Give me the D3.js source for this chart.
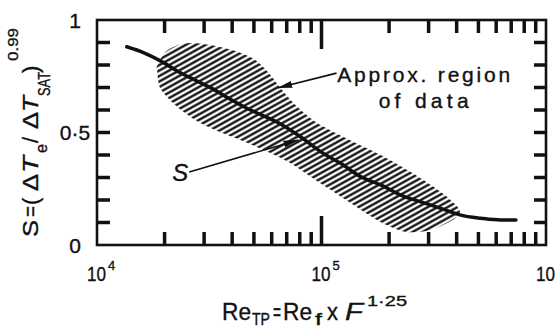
<!DOCTYPE html>
<html>
<head>
<meta charset="utf-8">
<script src="https://cdn.jsdelivr.net/npm/d3@7"></script>
<style>
    body { margin: 0; background: #fff; }
    svg { display: block; font-family: "Liberation Sans", Arial, sans-serif; }
    text { fill: #111; stroke: #111; stroke-width: 0.35px; }
</style>
</head>
<body>
<svg id="chart" width="557" height="329"></svg>
<script>
// S curve (Re_TP, S)
const curveRe = [13570, 16380, 19450, 23070, 27380, 32510, 38580, 45800, 54500, 65600, 80600,
    99000, 121600, 149300, 183400, 225300, 276700, 339900, 417400, 512700, 629000, 734500];
const curveS = [0.881, 0.852, 0.815, 0.770, 0.733, 0.696, 0.652, 0.611, 0.576, 0.538, 0.481,
    0.415, 0.363, 0.304, 0.267, 0.222, 0.192, 0.163, 0.133, 0.119, 0.111, 0.111];

// approx. region of data: upper edge left->right, lower edge right->left
const regionUpperRe = [18530, 20120, 22990, 26020, 31960, 41310, 50750, 59200, 65610, 76560,
    94000, 127900, 183400, 249700, 339900, 396500, 413200];
const regionUpperS = [0.796, 0.858, 0.889, 0.898, 0.889, 0.862, 0.822, 0.756, 0.698, 0.622,
    0.547, 0.476, 0.400, 0.324, 0.236, 0.178, 0.147];
const regionLowerRe = [384500, 306700, 237100, 183400, 134700, 94000, 72700, 59200, 45790,
    33640, 27380, 22300, 19110, 18530];
const regionLowerS = [0.111, 0.067, 0.058, 0.102, 0.187, 0.289, 0.364, 0.409, 0.458,
    0.511, 0.556, 0.622, 0.698, 0.778];

// ticks
const xMinorTicks = [2e4, 3e4, 4e4, 5e4, 6e4, 7e4, 8e4, 9e4, 2e5, 3e5, 4e5, 5e5, 6e5, 7e5, 8e5, 9e5];
const xMajorTicks = [1e5];
const xLabelValues = [1e4, 1e5, 1e6];
const xLabelExps = ["4", "5", "6"];
const yTicks = [0.1, 0.2, 0.3, 0.4, 0.5, 0.6, 0.7, 0.8, 0.9];
const yLabelValues = [0, 0.5, 1];
const yLabelTexts = ["0", "0·5", "1"];

// annotation anchors, in data units
const approxArrow = {from: [116700, 0.764], to: [63600, 0.698]};
const sArrow = {from: [25750, 0.324], to: [78950, 0.467]};

const svg = d3.select("#chart");
const margin = {top: 20, right: 11, bottom: 84, left: 97};
const width = 557 - margin.left - margin.right;
const height = 329 - margin.top - margin.bottom;
const g = svg.append("g").attr("transform", `translate(${margin.left},${margin.top})`);

const x = d3.scaleLog().domain([1e4, 1e6]).range([0, width]);
const y = d3.scaleLinear().domain([0, 1]).range([height, 0]);

// frame
g.append("rect")
    .attr("width", width).attr("height", height)
    .attr("fill", "none").attr("stroke", "#111").attr("stroke-width", 2.6);

// ticks, all pointing in from the frame, as filled bars
const tickG = g.append("g").attr("fill", "#111");
const tw = 3.5;
function xTicks(vals, len) {
    tickG.selectAll(null).data(vals).enter().append("rect")
        .attr("x", d => x(d) - tw / 2).attr("y", height - len)
        .attr("width", tw).attr("height", len);
    tickG.selectAll(null).data(vals).enter().append("rect")
        .attr("x", d => x(d) - tw / 2).attr("y", 0)
        .attr("width", tw).attr("height", len);
}
xTicks(xMinorTicks, 13);
xTicks(xMajorTicks, 29);
tickG.selectAll(null).data(yTicks).enter().append("rect")
    .attr("x", 0).attr("y", d => y(d) - tw / 2)
    .attr("width", 13).attr("height", tw);
tickG.selectAll(null).data(yTicks).enter().append("rect")
    .attr("x", width - 12).attr("y", d => y(d) - tw / 2)
    .attr("width", 12).attr("height", tw);

const defs = svg.append("defs");
const hatch = defs.append("pattern")
    .attr("id", "hatch")
    .attr("patternUnits", "userSpaceOnUse")
    .attr("width", 10)
    .attr("height", 4.8)
    .attr("patternTransform", "rotate(-29)");
hatch.append("line")
    .attr("x1", 0).attr("y1", 2.4).attr("x2", 10).attr("y2", 2.4)
    .attr("stroke", "#000").attr("stroke-width", 2.2);

defs.append("marker")
    .attr("id", "arrow")
    .attr("markerUnits", "userSpaceOnUse")
    .attr("viewBox", "0 -4 15 8")
    .attr("refX", 15).attr("refY", 0)
    .attr("markerWidth", 15).attr("markerHeight", 8)
    .attr("orient", "auto")
    .append("path")
    .attr("d", "M0,-3.5L15,0L0,3.5Z")
    .attr("fill", "#111");

// hatched region
const regionPts = regionUpperRe.map((r, i) => [r, regionUpperS[i]])
    .concat(regionLowerRe.map((r, i) => [r, regionLowerS[i]]));
g.append("path")
    .attr("d", d3.line().x(d => x(d[0])).y(d => y(d[1])).curve(d3.curveCardinalClosed.tension(0.2))(regionPts))
    .attr("fill", "url(#hatch)");

// S curve
g.append("path")
    .datum(curveRe.map((r, i) => [r, curveS[i]]))
    .attr("d", d3.line().x(d => x(d[0])).y(d => y(d[1])).curve(d3.curveMonotoneX))
    .attr("fill", "none")
    .attr("stroke", "#111")
    .attr("stroke-width", 3.5)
    .attr("stroke-linecap", "round");

// tick labels
const xl = g.selectAll(".xl").data(xLabelValues).enter().append("g")
    .attr("transform", d => `translate(${x(d)},${height + 36})`);
xl.append("text").attr("x", -10).attr("font-size", 21)
    .attr("textLength", 19).attr("lengthAdjust", "spacingAndGlyphs").text("10");
xl.append("text").attr("x", 11).attr("y", -11).attr("font-size", 13)
    .text((d, i) => xLabelExps[i]);

g.selectAll(".yl").data(yLabelValues).enter().append("text")
    .attr("x", -22).attr("y", d => y(d)).attr("dy", "0.36em")
    .attr("text-anchor", "middle").attr("font-size", 21)
    .text((d, i) => yLabelTexts[i]);

// arrows and notes
g.append("line")
    .attr("x1", x(approxArrow.from[0])).attr("y1", y(approxArrow.from[1]))
    .attr("x2", x(approxArrow.to[0])).attr("y2", y(approxArrow.to[1]))
    .attr("stroke", "#111").attr("stroke-width", 1.6).attr("marker-end", "url(#arrow)");
g.append("line")
    .attr("x1", x(sArrow.from[0])).attr("y1", y(sArrow.from[1]))
    .attr("x2", x(sArrow.to[0])).attr("y2", y(sArrow.to[1]))
    .attr("stroke", "#111").attr("stroke-width", 1.6).attr("marker-end", "url(#arrow)");

g.append("text")
    .attr("x", x(117500)).attr("y", y(0.726))
    .attr("font-size", 21)
    .attr("textLength", 173).attr("lengthAdjust", "spacing")
    .text("Approx. region");
g.append("text")
    .attr("x", x(179700)).attr("y", y(0.609))
    .attr("font-size", 21)
    .attr("textLength", 90).attr("lengthAdjust", "spacing")
    .text("of data");
g.append("text")
    .attr("x", x(sArrow.from[0]) - 1).attr("y", y(0.284))
    .attr("text-anchor", "end").attr("font-size", 24).attr("font-style", "italic")
    .text("S");

// axis titles, each piece its own text: [text, offset along, kind, length, shift]
function addParts(x0, y0, rotated, size, parts) {
    parts.forEach(p => {
        let shift = 0, fs = size;
        if (p[2] === "sub") { fs = 16; shift = p[4] || 12; }
        if (p[2] === "sup") { fs = 15; shift = p[4] || -20; }
        const tx = rotated ? x0 + shift : x0 + p[1];
        const ty = rotated ? y0 - p[1] : y0 + shift;
        const t = svg.append("text")
            .attr("transform", `translate(${tx},${ty})` + (rotated ? " rotate(-90)" : ""))
            .attr("font-size", fs)
            .text(p[0]);
        if (p[2] === "i") t.attr("font-style", "italic");
        if (p[3]) t.attr("textLength", p[3]).attr("lengthAdjust", "spacingAndGlyphs");
    });
}

addParts(38, 237, true, 22, [
    ["S", 0, "n", 17], ["=", 20, "n", 11], ["(", 32, "n"], ["Δ", 46, "n", 17], ["T", 64, "i", 17],
    ["e", 84, "sub", 9, 9], ["/", 94, "n"], ["Δ", 108, "n", 17], ["T", 125, "i", 16],
    ["SAT", 141, "sub", 24], [")", 164, "n"], ["0.99", 176, "sup", 33]
]);

addParts(0, 320, false, 24, [
    ["Re", 222, "n", 29], ["TP", 252, "sub", 18, 5], ["=", 273, "n", 8], ["Re", 283, "n", 29],
    ["f", 315, "sub", 7, 5], ["x", 327, "n", 11], ["F", 345, "i", 18], ["1·25", 367, "sup", 40, -14]
]);
</script>
</body>
</html>
